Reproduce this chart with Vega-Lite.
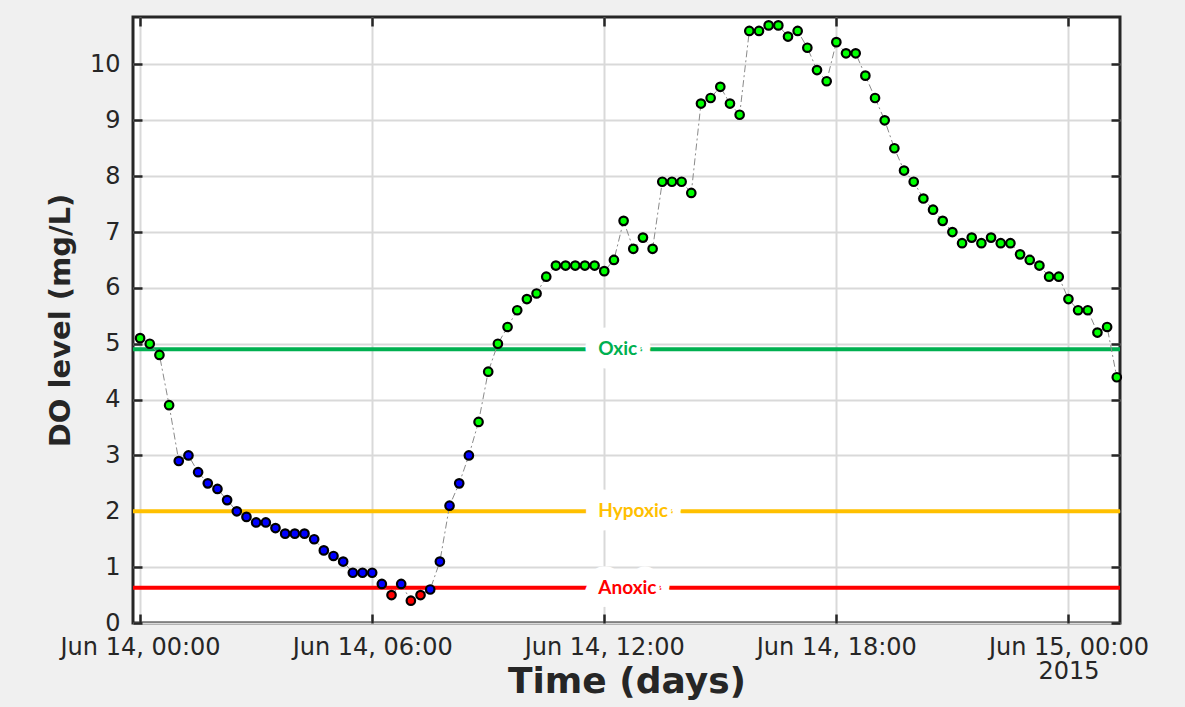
{
  "$schema": "https://vega.github.io/schema/vega-lite/v6.json",
  "width": 987,
  "height": 606,
  "autosize": {"type": "none"},
  "padding": {"left": 133, "top": 17, "right": 65, "bottom": 84},
  "background": "#f0f0f0",
  "config": {
    "view": {"fill": "white", "stroke": "#262626", "strokeWidth": 3}
  },
  "datasets": {
    "levels": [
      {"label": "Oxic", "level": 4.9},
      {"label": "Hypoxic", "level": 2.0},
      {"label": "Anoxic", "level": 0.63}
    ],
    "series": [
      {"t": "2015-06-14T00:00:00", "value": 5.1},
      {"t": "2015-06-14T00:15:00", "value": 5.0},
      {"t": "2015-06-14T00:30:00", "value": 4.8},
      {"t": "2015-06-14T00:45:00", "value": 3.9},
      {"t": "2015-06-14T01:00:00", "value": 2.9},
      {"t": "2015-06-14T01:15:00", "value": 3.0},
      {"t": "2015-06-14T01:30:00", "value": 2.7},
      {"t": "2015-06-14T01:45:00", "value": 2.5},
      {"t": "2015-06-14T02:00:00", "value": 2.4},
      {"t": "2015-06-14T02:15:00", "value": 2.2},
      {"t": "2015-06-14T02:30:00", "value": 2.0},
      {"t": "2015-06-14T02:45:00", "value": 1.9},
      {"t": "2015-06-14T03:00:00", "value": 1.8},
      {"t": "2015-06-14T03:15:00", "value": 1.8},
      {"t": "2015-06-14T03:30:00", "value": 1.7},
      {"t": "2015-06-14T03:45:00", "value": 1.6},
      {"t": "2015-06-14T04:00:00", "value": 1.6},
      {"t": "2015-06-14T04:15:00", "value": 1.6},
      {"t": "2015-06-14T04:30:00", "value": 1.5},
      {"t": "2015-06-14T04:45:00", "value": 1.3},
      {"t": "2015-06-14T05:00:00", "value": 1.2},
      {"t": "2015-06-14T05:15:00", "value": 1.1},
      {"t": "2015-06-14T05:30:00", "value": 0.9},
      {"t": "2015-06-14T05:45:00", "value": 0.9},
      {"t": "2015-06-14T06:00:00", "value": 0.9},
      {"t": "2015-06-14T06:15:00", "value": 0.7},
      {"t": "2015-06-14T06:30:00", "value": 0.5},
      {"t": "2015-06-14T06:45:00", "value": 0.7},
      {"t": "2015-06-14T07:00:00", "value": 0.4},
      {"t": "2015-06-14T07:15:00", "value": 0.5},
      {"t": "2015-06-14T07:30:00", "value": 0.6},
      {"t": "2015-06-14T07:45:00", "value": 1.1},
      {"t": "2015-06-14T08:00:00", "value": 2.1},
      {"t": "2015-06-14T08:15:00", "value": 2.5},
      {"t": "2015-06-14T08:30:00", "value": 3.0},
      {"t": "2015-06-14T08:45:00", "value": 3.6},
      {"t": "2015-06-14T09:00:00", "value": 4.5},
      {"t": "2015-06-14T09:15:00", "value": 5.0},
      {"t": "2015-06-14T09:30:00", "value": 5.3},
      {"t": "2015-06-14T09:45:00", "value": 5.6},
      {"t": "2015-06-14T10:00:00", "value": 5.8},
      {"t": "2015-06-14T10:15:00", "value": 5.9},
      {"t": "2015-06-14T10:30:00", "value": 6.2},
      {"t": "2015-06-14T10:45:00", "value": 6.4},
      {"t": "2015-06-14T11:00:00", "value": 6.4},
      {"t": "2015-06-14T11:15:00", "value": 6.4},
      {"t": "2015-06-14T11:30:00", "value": 6.4},
      {"t": "2015-06-14T11:45:00", "value": 6.4},
      {"t": "2015-06-14T12:00:00", "value": 6.3},
      {"t": "2015-06-14T12:15:00", "value": 6.5},
      {"t": "2015-06-14T12:30:00", "value": 7.2},
      {"t": "2015-06-14T12:45:00", "value": 6.7},
      {"t": "2015-06-14T13:00:00", "value": 6.9},
      {"t": "2015-06-14T13:15:00", "value": 6.7},
      {"t": "2015-06-14T13:30:00", "value": 7.9},
      {"t": "2015-06-14T13:45:00", "value": 7.9},
      {"t": "2015-06-14T14:00:00", "value": 7.9},
      {"t": "2015-06-14T14:15:00", "value": 7.7},
      {"t": "2015-06-14T14:30:00", "value": 9.3},
      {"t": "2015-06-14T14:45:00", "value": 9.4},
      {"t": "2015-06-14T15:00:00", "value": 9.6},
      {"t": "2015-06-14T15:15:00", "value": 9.3},
      {"t": "2015-06-14T15:30:00", "value": 9.1},
      {"t": "2015-06-14T15:45:00", "value": 10.6},
      {"t": "2015-06-14T16:00:00", "value": 10.6},
      {"t": "2015-06-14T16:15:00", "value": 10.7},
      {"t": "2015-06-14T16:30:00", "value": 10.7},
      {"t": "2015-06-14T16:45:00", "value": 10.5},
      {"t": "2015-06-14T17:00:00", "value": 10.6},
      {"t": "2015-06-14T17:15:00", "value": 10.3},
      {"t": "2015-06-14T17:30:00", "value": 9.9},
      {"t": "2015-06-14T17:45:00", "value": 9.7},
      {"t": "2015-06-14T18:00:00", "value": 10.4},
      {"t": "2015-06-14T18:15:00", "value": 10.2},
      {"t": "2015-06-14T18:30:00", "value": 10.2},
      {"t": "2015-06-14T18:45:00", "value": 9.8},
      {"t": "2015-06-14T19:00:00", "value": 9.4},
      {"t": "2015-06-14T19:15:00", "value": 9.0},
      {"t": "2015-06-14T19:30:00", "value": 8.5},
      {"t": "2015-06-14T19:45:00", "value": 8.1},
      {"t": "2015-06-14T20:00:00", "value": 7.9},
      {"t": "2015-06-14T20:15:00", "value": 7.6},
      {"t": "2015-06-14T20:30:00", "value": 7.4},
      {"t": "2015-06-14T20:45:00", "value": 7.2},
      {"t": "2015-06-14T21:00:00", "value": 7.0},
      {"t": "2015-06-14T21:15:00", "value": 6.8},
      {"t": "2015-06-14T21:30:00", "value": 6.9},
      {"t": "2015-06-14T21:45:00", "value": 6.8},
      {"t": "2015-06-14T22:00:00", "value": 6.9},
      {"t": "2015-06-14T22:15:00", "value": 6.8},
      {"t": "2015-06-14T22:30:00", "value": 6.8},
      {"t": "2015-06-14T22:45:00", "value": 6.6},
      {"t": "2015-06-14T23:00:00", "value": 6.5},
      {"t": "2015-06-14T23:15:00", "value": 6.4},
      {"t": "2015-06-14T23:30:00", "value": 6.2},
      {"t": "2015-06-14T23:45:00", "value": 6.2},
      {"t": "2015-06-15T00:00:00", "value": 5.8},
      {"t": "2015-06-15T00:15:00", "value": 5.6},
      {"t": "2015-06-15T00:30:00", "value": 5.6},
      {"t": "2015-06-15T00:45:00", "value": 5.2},
      {"t": "2015-06-15T01:00:00", "value": 5.3},
      {"t": "2015-06-15T01:15:00", "value": 4.4}
    ]
  },
  "resolve": {"axis": {"x": "independent", "y": "independent"}},
  "layer": [
    {
      "data": {"name": "levels"},
      "mark": {"type": "rule", "strokeWidth": 4},
      "encoding": {
        "y": {"field": "level", "type": "quantitative", "scale": {"domain": [0, 10.85], "nice": false}, "axis": null},
        "color": {"field": "label", "type": "nominal", "scale": {"domain": ["Oxic", "Hypoxic", "Anoxic"], "range": ["#00b050", "#ffc000", "#ff0000"]}, "legend": null}
      }
    },
    {
      "data": {"name": "levels"},
      "mark": {"type": "text", "font": "Lato", "fontWeight": "bold", "fontSize": 19, "align": "left", "baseline": "middle", "dx": -6, "stroke": "white", "strokeWidth": 27, "strokeJoin": "round", "fill": "white"},
      "encoding": {
        "x": {"datum": {"year": 2015, "month": 6, "date": 14, "hours": 12}, "type": "temporal", "axis": null},
        "y": {"field": "level", "type": "quantitative", "axis": null},
        "text": {"field": "label"}
      }
    },
    {
      "data": {"name": "levels"},
      "mark": {"type": "text", "font": "Lato", "fontWeight": "bold", "fontSize": 19, "align": "left", "baseline": "middle", "dx": -6},
      "encoding": {
        "x": {"datum": {"year": 2015, "month": 6, "date": 14, "hours": 12}, "type": "temporal", "axis": null},
        "y": {"field": "level", "type": "quantitative", "axis": null},
        "text": {"field": "label"},
        "color": {"field": "label", "type": "nominal", "legend": null}
      }
    },
    {
      "data": {"name": "series"},
      "mark": {"type": "line", "color": "#8a8a8a", "strokeWidth": 1, "strokeDash": [7, 3, 2, 3]},
      "encoding": {
        "x": {"field": "t", "type": "temporal", "axis": null},
        "y": {"field": "value", "type": "quantitative", "axis": null}
      }
    },
    {
      "data": {"name": "series"},
      "mark": {"type": "circle", "stroke": "#000000", "strokeWidth": 2.2, "size": 72, "opacity": 1},
      "encoding": {
        "x": {
          "field": "t", "type": "temporal",
          "scale": {"domain": [{"year": 2015, "month": 6, "date": 13, "hours": 23, "minutes": 49}, {"year": 2015, "month": 6, "date": 15, "hours": 1, "minutes": 20}], "nice": false},
          "axis": {
            "title": "Time (days)",
            "values": [
              {"year": 2015, "month": 6, "date": 14, "hours": 0},
              {"year": 2015, "month": 6, "date": 14, "hours": 6},
              {"year": 2015, "month": 6, "date": 14, "hours": 12},
              {"year": 2015, "month": 6, "date": 14, "hours": 18},
              {"year": 2015, "month": 6, "date": 15, "hours": 0}
            ],
            "format": "%b %d, %H:%M",
            "labelExpr": "month(datum.value) == 5 && date(datum.value) == 15 ? [datum.label, '2015'] : datum.label",
            "grid": true, "gridColor": "#d9d9d9", "gridWidth": 2,
            "domain": false,
            "tickSize": -9, "tickWidth": 2.5, "tickColor": "#262626",
            "labelPadding": 21, "labelFont": "DejaVu Sans", "labelFontSize": 24, "labelColor": "#262626",
            "labelFlush": false, "labelOverlap": false, "labelBound": false, "labelLineHeight": 24,
            "titleFont": "DejaVu Sans", "titleFontWeight": "bold", "titleFontSize": 36, "titleColor": "#262626",
            "titleY": 69, "titleBaseline": "alphabetic"
          }
        },
        "y": {
          "field": "value", "type": "quantitative",
          "axis": {
            "title": "DO level (mg/L)",
            "values": [0, 1, 2, 3, 4, 5, 6, 7, 8, 9, 10],
            "grid": true, "gridColor": "#d9d9d9", "gridWidth": 2,
            "domain": false,
            "tickSize": -9, "tickWidth": 2.5, "tickColor": "#262626",
            "labelPadding": 22, "labelFont": "DejaVu Sans", "labelFontSize": 24, "labelColor": "#262626",
            "labelFlush": false, "labelOverlap": false,
            "titleFont": "DejaVu Sans", "titleFontWeight": "bold", "titleFontSize": 29, "titleColor": "#262626",
            "titleX": -73, "titleY": 303, "titleAngle": 270, "titleBaseline": "middle", "titleAlign": "center"
          }
        },
        "fill": {
          "condition": [
            {"test": "datum.value <= 0.55", "value": "#ff0000"},
            {"test": "datum.value < 3.5", "value": "#0000ff"}
          ],
          "value": "#00ff00"
        }
      }
    },
    {
      "data": {"name": "series"},
      "mark": {"type": "point", "opacity": 0},
      "encoding": {
        "x": {
          "field": "t", "type": "temporal",
          "axis": {
            "orient": "top", "title": null, "labels": false, "grid": false, "domain": false,
            "values": [
              {"year": 2015, "month": 6, "date": 14, "hours": 0},
              {"year": 2015, "month": 6, "date": 14, "hours": 6},
              {"year": 2015, "month": 6, "date": 14, "hours": 12},
              {"year": 2015, "month": 6, "date": 14, "hours": 18},
              {"year": 2015, "month": 6, "date": 15, "hours": 0}
            ],
            "tickSize": -9, "tickWidth": 2.5, "tickColor": "#262626"
          }
        },
        "y": {
          "field": "value", "type": "quantitative",
          "axis": {
            "orient": "right", "title": null, "labels": false, "grid": false, "domain": false,
            "values": [0, 1, 2, 3, 4, 5, 6, 7, 8, 9, 10],
            "tickSize": -9, "tickWidth": 2.5, "tickColor": "#262626"
          }
        }
      }
    }
  ]
}
